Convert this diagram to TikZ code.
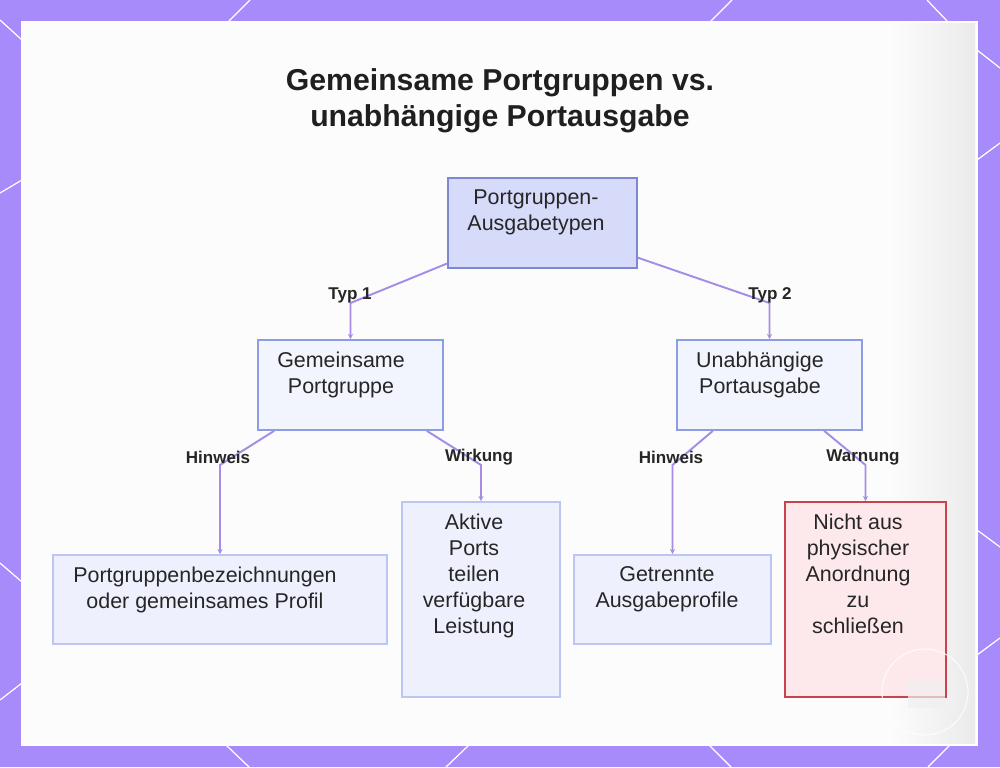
\documentclass[tikz,border=0pt]{standalone}
\usepackage{fontspec}
\setmainfont{Liberation Sans}
\usetikzlibrary{arrows.meta}

\definecolor{bgpurple}{RGB}{167,139,250}
\definecolor{panelgray}{RGB}{252,252,252}
\definecolor{connpurple}{RGB}{165,140,230}
\definecolor{rootfill}{RGB}{215,219,250}
\definecolor{rootdraw}{RGB}{125,136,209}
\definecolor{midfill}{RGB}{242,244,254}
\definecolor{middraw}{RGB}{142,157,227}
\definecolor{leaffill}{RGB}{238,241,253}
\definecolor{leafdraw}{RGB}{188,198,242}
\definecolor{warnfill}{RGB}{253,232,236}
\definecolor{warndraw}{RGB}{201,67,78}
\definecolor{txtgray}{RGB}{38,38,38}

\tikzset{
	boxtext/.style={anchor=north, align=center, inner sep=0pt, yshift=-0.25cm, text=txtgray, font=\fontsize{12.2}{14.8}\selectfont},
	rootbox/.style={draw=rootdraw, fill=rootfill, line width=1pt, inner sep=0pt},
	midbox/.style={draw=middraw, fill=midfill, line width=1pt, inner sep=0pt},
	leafbox/.style={draw=leafdraw, fill=leaffill, line width=1pt, inner sep=0pt},
	warnbox/.style={draw=warndraw, fill=warnfill, line width=1pt, inner sep=0pt},
	edgelabel/.style={text=txtgray, font=\bfseries\fontsize{9.7}{11}\selectfont, inner sep=0pt},
	conn/.style={draw=connpurple, line width=1.1pt, -{Stealth[length=3pt,width=3pt]}},
	hexline/.style={white, line width=0.7pt}
}

\begin{document}
\begin{tikzpicture}[x=0.02cm, y=-0.02cm]
		%%%%% START %%%%%
		\useasboundingbox (0,0) rectangle (1000,767);
		\fill[bgpurple] (0,0) rectangle (1000,767);
		
		% lines on the frame
		\draw[hexline] (228,22) -- (250,0);
		\draw[hexline] (710,22) -- (732,0);
		\draw[hexline] (927,0) -- (948,22);
		\draw[hexline] (977,50) -- (1000,68);
		\draw[hexline] (977,160) -- (1000,143);
		\draw[hexline] (977,530) -- (1000,547);
		\draw[hexline] (977,655) -- (1000,638);
		\draw[hexline] (0,20) -- (22,40);
		\draw[hexline] (0,193) -- (22,180);
		\draw[hexline] (0,563) -- (22,582);
		\draw[hexline] (0,700) -- (22,683);
		\draw[hexline] (226,745) -- (249,767);
		\draw[hexline] (469,745) -- (446,767);
		\draw[hexline] (709,745) -- (731,767);
		\draw[hexline] (950,745) -- (928,767);
		
		% panel
		\fill[panelgray] (22,22) rectangle (977,745);
		\shade[left color=panelgray, right color=black!8] (890,24) rectangle (975,743);
		\draw[white, line width=1.2pt] (22,22) rectangle (977,745);
		
		% title
		\node[anchor=north, align=center, inner sep=0pt, text=black!88, font=\bfseries\fontsize{17.2}{20.5}\selectfont] (title) at (500,68) {Gemeinsame Portgruppen vs.\\unabhängige Portausgabe};
		
		% boxes
		\node[rootbox, minimum width=3.78cm, minimum height=1.8cm, label={[boxtext, xshift=-0.13cm]north:Portgruppen-\\Ausgabetypen}] (root) at (542.5,223) {};
		
		\node[midbox, minimum width=3.7cm, minimum height=1.8cm, label={[boxtext, xshift=-0.19cm]north:Gemeinsame\\Portgruppe}] (shared) at (350.5,385) {};
		\node[midbox, minimum width=3.7cm, minimum height=1.8cm, label={[boxtext, xshift=-0.19cm]north:Unabhängige\\Portausgabe}] (indep) at (769.5,385) {};
		
		\node[leafbox, minimum width=6.68cm, minimum height=1.78cm, label={[boxtext, xshift=-0.3cm]north:Portgruppenbezeichnungen\\oder gemeinsames Profil}] (names) at (220,599.5) {};
		\node[leafbox, minimum width=3.16cm, minimum height=3.9cm, label={[boxtext, xshift=-0.14cm]north:Aktive\\Ports\\teilen\\verfügbare\\Leistung}] (power) at (481,599.5) {};
		\node[leafbox, minimum width=3.94cm, minimum height=1.78cm, label={[boxtext, xshift=-0.11cm]north:Getrennte\\Ausgabeprofile}] (profiles) at (672.5,599.5) {};
		\node[warnbox, minimum width=3.22cm, minimum height=3.9cm, label={[boxtext, xshift=-0.15cm]north:Nicht aus\\physischer\\Anordnung\\zu\\schließen}] (layout) at (865.5,599.5) {};
		
		% connectors
		\draw[conn] (root.203) -- (shared.north |- 0,303) -- (shared.north);
		\draw[conn] (root.-20) -- (indep.north |- 0,303) -- (indep.north);
		\draw[conn] (shared.211.5) -- (names.north |- 0,465) -- (names.north);
		\draw[conn] (shared.-31.8) -- (power.north |- 0,465) -- (power.north);
		\draw[conn] (indep.219.5) -- (profiles.north |- 0,465) -- (profiles.north);
		\draw[conn] (indep.-40.1) -- (layout.north |- 0,465) -- (layout.north);
		
		\node[edgelabel] (typ1) at (350,295) {Typ 1};
		\node[edgelabel] (typ2) at (770,295) {Typ 2};
		\node[edgelabel] (hint1) at (218,457) {Hinweis};
		\node[edgelabel] (effect) at (479,457) {Wirkung};
		\node[edgelabel] (hint2) at (671,457) {Hinweis};
		\node[edgelabel] (warn) at (863,457) {Warnung};
		
		% watermark
		\fill[black!6, opacity=0.7] (908,680) rectangle (945,708);
		\draw[white, line width=0.6pt, opacity=0.8] (925,692) circle (43);
		%%%%% END %%%%%
\end{tikzpicture}
\end{document}
